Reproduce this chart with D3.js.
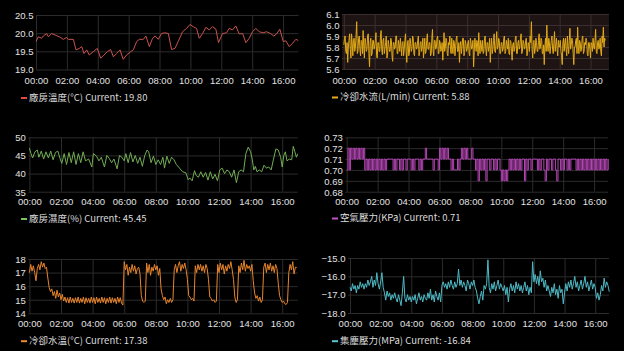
<!DOCTYPE html>
<html><head><meta charset="utf-8">
<script src="https://cdn.jsdelivr.net/npm/d3@7"></script>
<style>
html,body{margin:0;padding:0;background:#000;}
svg{display:block;}
</style></head><body>
<svg id="c" width="624" height="351"></svg>
<script>
// ---------- DATA ----------
const xTickHours = [0,2,4,6,8,10,12,14,16];
const STEP_MIN = 5;        // sampling step (minutes) for evenly sampled series
const FLOW_STEP_MIN = 2.5; // sampling step (minutes) for the flow series

// 廠房溫度 (irregular samples: hour, value)
const tempHours = [0.00,0.15,0.37,0.47,0.69,0.80,1.01,1.23,1.51,1.77,
1.98,2.09,2.42,2.59,2.80,2.96,3.11,3.28,3.45,3.71,
3.97,4.19,4.40,4.62,4.83,5.01,5.22,5.44,5.65,5.87,
6.13,6.30,6.52,6.69,6.95,7.12,7.34,7.55,7.72,7.92,
8.13,8.35,8.57,8.78,9.00,9.21,9.49,9.75,9.97,10.18,
10.40,10.57,10.79,11.00,11.22,11.43,11.65,11.82,12.08,12.34,
12.51,12.73,12.94,13.16,13.38,13.59,13.81,14.02,14.24,14.46,
14.71,14.93,15.19,15.40,15.58,15.79,16.01,16.18,16.40,16.61,
16.83,16.98];
const tempValues = [19.77,19.90,19.86,19.92,19.99,19.90,19.99,19.95,19.90,19.83,
19.88,19.83,19.83,19.54,19.58,19.63,19.44,19.54,19.40,19.49,
19.58,19.31,19.40,19.49,19.55,19.35,19.44,19.54,19.28,19.40,
19.49,19.54,19.77,19.83,19.83,19.92,19.63,19.86,19.92,19.83,
19.99,20.01,19.99,19.55,19.58,19.77,20.04,20.13,20.24,20.18,
20.13,19.86,19.99,20.16,20.09,20.18,20.11,19.74,19.99,20.01,
20.13,20.09,20.20,19.98,19.99,19.74,19.86,20.04,20.13,20.04,
20.01,20.04,19.99,19.92,19.98,20.11,19.77,19.79,19.63,19.72,
19.83,19.80];
const tempTicks = [19.0,19.5,20.0,20.5];

// 冷卻水流 (every 2.5 min)
const flowValues = [
5.82,5.88,5.90,5.76,5.74,5.84,5.66,5.80,5.86,5.92,5.78,5.70,5.92,5.84,5.72,5.86,5.88,5.76,5.80,5.90,6.03,5.74,5.76,5.88,
5.90,5.78,5.72,5.86,5.85,5.74,5.95,5.80,5.70,5.88,5.84,5.76,5.78,5.90,5.92,5.74,5.62,5.84,5.88,5.72,5.74,5.86,5.86,5.78,
5.80,5.86,5.93,5.72,5.70,5.84,5.84,5.76,5.76,5.90,5.95,5.78,5.73,5.86,5.88,5.74,5.78,5.84,5.90,5.70,5.72,5.86,5.82,5.76,
5.76,5.88,5.86,5.72,5.67,5.84,5.84,5.78,5.80,5.90,5.90,5.74,5.74,5.86,5.82,5.76,5.88,5.80,5.72,5.84,5.85,5.72,5.78,5.86,
5.92,5.76,5.66,5.84,5.86,5.72,5.74,5.88,5.83,5.76,5.78,5.90,5.88,5.74,5.72,5.84,5.84,5.78,5.79,5.86,5.90,5.72,5.75,5.84,
5.85,5.76,5.80,5.88,5.70,5.78,5.88,5.74,5.76,5.86,5.92,5.78,5.78,5.84,5.84,5.72,5.74,5.88,5.96,5.76,5.72,5.86,5.86,5.78,
5.80,5.88,5.90,5.74,5.74,5.86,5.84,5.76,5.78,5.84,5.68,5.80,5.93,5.76,5.80,5.88,5.86,5.74,5.72,5.84,5.82,5.90,5.78,5.74,
5.88,5.78,5.74,5.86,5.84,5.72,5.79,5.88,5.90,5.76,5.76,5.84,5.66,5.80,5.85,5.74,5.80,5.88,5.88,5.72,5.75,5.86,5.83,5.76,
5.78,5.84,5.86,5.74,5.72,5.88,5.84,5.78,5.80,5.86,5.62,5.76,5.88,5.82,5.76,5.86,5.84,5.72,5.93,5.80,5.74,5.86,5.82,5.76,
5.86,5.74,5.76,5.88,5.90,5.78,5.72,5.84,5.84,5.76,5.80,5.88,5.66,5.80,5.88,5.74,5.78,5.86,5.92,5.76,5.75,5.84,5.94,5.78,
5.80,5.88,5.86,5.74,5.74,5.84,5.84,5.76,5.78,5.88,5.90,5.74,5.76,5.86,5.82,5.78,5.88,5.74,5.73,5.86,5.85,5.76,5.68,5.82,
5.84,5.76,5.78,5.88,5.90,5.74,5.74,5.84,5.86,5.78,5.80,5.88,5.92,5.74,5.76,5.86,5.84,5.78,5.79,5.86,5.88,5.72,5.74,5.84,
5.82,5.76,5.90,5.84,6.03,5.78,5.70,5.84,5.86,5.74,5.78,5.88,5.84,5.76,5.76,5.86,5.92,5.78,5.80,5.88,5.86,5.74,5.74,5.82,
5.64,5.80,5.88,5.76,6.00,5.82,5.76,5.88,5.84,5.74,5.80,5.86,5.90,5.78,5.74,5.84,5.94,5.76,5.82,5.88,5.78,5.72,5.86,5.80,
5.80,5.86,5.76,5.72,5.64,5.84,5.88,5.76,5.84,5.88,5.78,5.72,5.90,5.80,5.74,5.86,5.97,5.78,5.82,5.88,5.86,5.74,5.64,5.80,
5.80,5.86,5.88,5.74,5.98,5.80,5.74,5.86,5.84,5.76,5.78,5.88,5.90,5.74,5.76,5.84,5.82,5.88,5.86,5.74,5.72,5.84,5.84,5.78,
5.70,5.84,5.82,5.76,5.88,5.80,5.78,5.86,5.96,5.76,5.74,5.84,5.86,5.78,5.80,5.88,5.76,5.72,5.90,5.84,5.98,5.80,5.88,5.86];
const flowTicks = [5.6,5.7,5.8,5.9,6.0,6.1];

// 廠房濕度 (irregular samples: hour, value)
const humHours = [0.00,0.10,0.20,0.35,0.50,0.60,0.75,0.90,1.05,1.20,
1.35,1.50,1.65,1.80,1.95,2.05,2.20,2.35,2.50,2.65,
2.80,2.95,3.10,3.25,3.40,3.55,3.75,3.95,4.05,4.25,
4.40,4.55,4.75,4.90,5.05,5.20,5.35,5.55,5.70,5.85,
6.00,6.10,6.25,6.40,6.55,6.70,6.85,7.00,7.15,7.30,
7.45,7.55,7.70,7.85,8.00,8.15,8.30,8.45,8.55,8.70,
8.85,9.00,9.15,9.30,9.50,9.70,9.90,10.05,10.15,10.30,
10.45,10.55,10.70,10.85,11.00,11.15,11.30,11.45,11.60,11.75,
11.90,12.05,12.20,12.35,12.50,12.65,12.80,12.95,13.10,13.25,
13.40,13.55,13.70,13.85,14.00,14.10,14.20,14.30,14.40,14.55,
14.70,14.85,15.00,15.15,15.30,15.45,15.60,15.75,15.90,16.00,
16.10,16.20,16.30,16.45,16.60,16.70,16.80,16.90,16.98];
const humValues = [47.0,45.5,44.3,46.0,46.5,44.5,46.2,44.0,46.0,44.3,
46.2,43.8,45.8,46.2,44.0,42.8,45.5,42.5,45.8,43.0,
46.0,42.5,45.5,43.0,46.0,43.5,44.0,41.8,45.5,44.8,
43.5,44.5,41.8,45.0,44.2,43.0,44.0,41.3,45.0,44.5,
43.5,45.5,43.0,45.8,43.2,45.0,42.8,44.5,42.0,45.0,
46.5,46.0,43.0,44.8,42.5,43.8,42.5,44.5,41.5,44.8,
42.8,44.5,43.8,42.5,41.5,40.5,40.2,38.3,38.8,38.0,
40.8,39.5,39.0,40.5,39.0,40.3,38.2,40.5,38.5,39.8,
38.0,41.0,41.5,40.0,41.0,40.5,39.0,41.0,37.5,40.5,
41.0,40.5,45.5,47.3,46.0,44.0,41.0,42.0,40.5,41.0,
40.5,42.3,41.5,41.8,41.0,44.0,46.8,46.5,44.5,41.8,
45.0,46.0,43.5,44.0,43.8,47.5,46.0,44.5,45.45];
const humTicks = [35,40,45,50];

// 空氣壓力 (every 5 min)
const airValues = [
0.70,0.72,0.70,0.72,0.71,0.72,0.71,0.72,0.71,0.72,0.71,0.72,
0.71,0.72,0.70,0.71,0.70,0.71,0.70,0.71,0.70,0.71,0.70,0.71,
0.70,0.71,0.70,0.71,0.70,0.71,0.70,0.71,0.71,0.71,0.71,0.71,
0.70,0.71,0.70,0.71,0.71,0.70,0.71,0.70,0.71,0.71,0.70,0.71,
0.71,0.71,0.70,0.71,0.70,0.71,0.71,0.71,0.70,0.71,0.70,0.71,
0.71,0.72,0.71,0.71,0.71,0.71,0.71,0.70,0.71,0.71,0.71,0.70,
0.72,0.71,0.72,0.71,0.72,0.71,0.72,0.71,0.71,0.70,0.71,0.70,
0.70,0.70,0.71,0.70,0.71,0.72,0.71,0.72,0.71,0.72,0.71,0.71,
0.71,0.72,0.71,0.71,0.70,0.71,0.69,0.71,0.70,0.71,0.70,0.71,
0.69,0.71,0.71,0.70,0.71,0.71,0.70,0.71,0.70,0.71,0.71,0.70,
0.69,0.70,0.69,0.70,0.69,0.70,0.71,0.70,0.71,0.70,0.71,0.70,
0.71,0.70,0.71,0.70,0.71,0.71,0.69,0.71,0.70,0.71,0.71,0.70,
0.71,0.71,0.71,0.71,0.70,0.71,0.70,0.71,0.71,0.70,0.69,0.71,
0.70,0.71,0.71,0.70,0.71,0.71,0.70,0.69,0.71,0.71,0.70,0.71,
0.70,0.71,0.71,0.70,0.71,0.70,0.71,0.71,0.71,0.71,0.70,0.71,
0.70,0.71,0.70,0.71,0.70,0.71,0.70,0.71,0.70,0.71,0.70,0.71,
0.70,0.71,0.70,0.71,0.70,0.71,0.70,0.71,0.70,0.71,0.70,0.71];
const airTicks = [0.68,0.69,0.70,0.71,0.72,0.73];

// 冷卻水溫 (every 5 min)
const waterTempValues = [
17.0,17.6,17.1,17.5,17.0,16.4,17.3,17.6,17.2,17.8,17.4,17.7,
17.3,17.4,16.6,15.9,15.6,15.8,15.3,15.6,15.1,15.7,15.2,15.5,
15.0,15.4,14.9,15.2,14.8,15.15,14.75,15.2,14.8,15.1,14.75,15.15,
14.8,15.2,14.75,15.1,14.8,15.2,14.7,15.15,14.8,15.1,14.75,15.2,
14.8,15.15,14.7,15.2,14.8,15.1,14.75,15.2,14.8,15.15,14.7,15.1,
14.8,15.2,14.75,15.15,14.8,15.1,14.7,15.2,14.8,15.15,14.75,14.6,
17.8,17.2,17.6,16.8,17.4,17.0,17.6,17.1,17.5,16.9,17.3,17.4,
16.9,15.3,14.9,14.8,14.9,17.7,17.0,17.6,16.8,17.4,17.1,17.6,
17.2,17.5,16.8,17.3,15.8,15.3,15.0,15.2,14.7,15.0,14.8,15.1,
14.8,15.0,17.2,17.6,17.0,17.5,17.8,17.1,17.6,17.3,17.7,17.2,
16.5,15.3,15.2,15.0,15.1,14.9,17.5,17.0,17.6,17.2,17.6,17.1,
17.5,17.0,17.6,17.3,16.5,15.2,15.1,14.9,15.0,14.8,14.9,17.6,
17.0,17.7,17.2,17.6,16.9,17.5,17.1,17.6,17.3,17.8,17.2,16.5,
15.2,14.8,15.0,17.5,17.0,17.7,17.2,17.9,17.1,17.6,17.3,17.5,
17.1,17.6,16.4,15.5,15.1,15.3,14.9,15.2,14.8,15.0,17.4,17.7,
17.0,17.6,17.2,17.7,17.1,17.5,17.0,17.6,17.3,16.2,15.3,15.0,
14.8,14.9,14.7,14.65,14.8,17.0,17.6,17.2,17.8,16.9,17.4,17.38];
const waterTempTicks = [14,15,16,17,18];

// 集塵壓力 (every 5 min)
const dustValues = [
-16.6,-16.8,-16.4,-16.7,-16.5,-16.9,-16.5,-16.7,-16.3,-16.6,-16.4,-16.7,
-16.4,-16.6,-16.2,-16.5,-16.3,-16.0,-16.6,-16.2,-16.5,-15.8,-16.4,-16.7,
-16.3,-15.8,-16.6,-16.9,-17.3,-16.8,-17.1,-16.9,-17.3,-17.0,-17.2,-16.9,
-17.2,-17.4,-17.0,-17.3,-17.6,-16.9,-16.0,-17.2,-17.4,-17.0,-17.3,-17.1,
-17.4,-17.1,-17.3,-17.0,-17.5,-17.2,-16.9,-17.3,-17.1,-17.4,-17.0,-17.2,
-17.3,-16.9,-17.2,-16.7,-17.3,-17.0,-17.4,-16.8,-17.1,-17.3,-16.9,-17.4,
-16.5,-16.3,-16.6,-16.4,-16.7,-16.3,-16.6,-16.2,-16.5,-16.7,-16.3,-16.6,
-16.4,-15.6,-16.5,-16.2,-16.6,-16.3,-16.5,-16.8,-16.2,-16.4,-16.7,-16.3,
-16.5,-16.2,-16.6,-16.8,-17.2,-17.5,-17.1,-16.8,-17.3,-16.5,-16.7,-16.4,
-15.1,-16.6,-16.9,-16.4,-16.7,-16.3,-16.8,-16.5,-16.2,-16.7,-16.4,-16.6,
-16.8,-16.5,-17.0,-16.6,-17.4,-16.7,-16.4,-16.8,-16.5,-16.9,-16.3,-16.7,
-16.4,-16.8,-16.5,-16.9,-16.6,-16.3,-16.8,-16.5,-17.0,-16.6,-16.9,-15.2,
-16.3,-15.9,-16.4,-16.0,-16.5,-15.7,-16.3,-16.1,-16.6,-16.2,-16.8,-16.5,
-16.8,-17.1,-16.6,-16.9,-16.4,-17.0,-16.7,-17.2,-16.5,-16.9,-16.7,-17.5,
-16.9,-16.4,-16.8,-16.3,-16.6,-16.2,-16.7,-16.4,-16.0,-16.6,-16.3,-16.8,
-16.5,-16.2,-16.7,-16.4,-16.0,-16.6,-16.3,-16.8,-16.5,-16.2,-16.7,-16.4,
-16.6,-17.2,-16.9,-17.3,-17.0,-16.5,-16.8,-16.1,-16.6,-16.3,-16.5,-16.84];
const dustTicks = [-18,-17,-16,-15];

const legendLabels = ["廠房溫度(°C)","冷卻水流(L/min)","廠房濕度(%)","空氣壓力(KPa)","冷卻水溫(°C)","集塵壓力(MPa)"];
const currentValues = ["19.80","5.88","45.45","0.71","17.38","-16.84"];

// ---------- DRAW ----------
const svg = d3.select("#c");
svg.append("rect").attr("width",624).attr("height",351).attr("fill","#000");
const TICK_FONT = "'Liberation Sans',Arial,sans-serif";
const LEG_FONT = "'Noto Sans CJK TC','Noto Sans',sans-serif";
const base = new Date(2020,0,1,0,0,0);
const hToDate = h => new Date(base.getTime() + h*3600000);
const stepSeries = (vals, step) => vals.map((v,i)=>({t:hToDate(i*step/60), v}));
const pairSeries = (hs, vals) => hs.map((h,i)=>({t:hToDate(h), v:vals[i]}));
const xTickDates = xTickHours.map(hToDate);

const panels = [
 {data:pairSeries(tempHours,tempValues), ticks:tempTicks, fmt:d3.format(".1f"), color:"#c9534f", sw:"#e24848",
  left:36, right:298.5, top:15, bottom:69.5, t0:0, t1:17, bg:null, grid:"#2c2c2c", xLabelY:80.5, legendX:29, legendY:97.5, curve:d3.curveLinear},
 {data:stepSeries(flowValues,FLOW_STEP_MIN), ticks:flowTicks, fmt:d3.format(".1f"), color:"#e2aa14", sw:"#eaaa1c",
  left:342, right:609, top:14, bottom:69, t0:-0.12, t1:17.2, bg:"#1f1414", grid:"#3a2e2e", xLabelY:80.5, legendX:340, legendY:97, curve:d3.curveLinear},
 {data:pairSeries(humHours,humValues), ticks:humTicks, fmt:d3.format("d"), color:"#72ad55", sw:"#7cc25a",
  left:28.3, right:297.7, top:137.3, bottom:191.7, t0:-0.07, t1:16.98, bg:null, grid:"#2c2c2c", xLabelY:202, legendX:29, legendY:218.5, curve:d3.curveLinear},
 {data:stepSeries(airValues,STEP_MIN), ticks:airTicks, fmt:d3.format(".2f"), color:"#b446b4", sw:"#c452c4",
  left:345.3, right:608, top:137.3, bottom:191.7, t0:-0.09, t1:16.9, bg:null, grid:"#2c2c2c", xLabelY:202, legendX:340, legendY:218, curve:d3.curveStepAfter},
 {data:stepSeries(waterTempValues,STEP_MIN), ticks:waterTempTicks, fmt:d3.format("d"), color:"#e8852c", sw:"#f08a30",
  left:28.3, right:297.7, top:259, bottom:313.3, t0:-0.07, t1:16.98, bg:null, grid:"#2c2c2c", xLabelY:324, legendX:29, legendY:340.7, curve:d3.curveLinear},
 {data:stepSeries(dustValues,STEP_MIN), ticks:dustTicks, fmt:d3.format(".1f"), color:"#4fbac6", sw:"#58c8d4",
  left:348, right:609, top:258, bottom:313, t0:-0.13, t1:16.9, bg:null, grid:"#2c2c2c", xLabelY:323.5, legendX:340, legendY:340.7, curve:d3.curveLinear}
];

panels.forEach((p,i)=>{
  const x = d3.scaleTime().domain([hToDate(p.t0),hToDate(p.t1)]).range([p.left,p.right]);
  const y = d3.scaleLinear().domain([p.ticks[0],p.ticks[p.ticks.length-1]]).range([p.bottom,p.top]);
  const g = svg.append("g");
  if(p.bg) g.append("rect").attr("x",p.left).attr("y",p.top).attr("width",p.right-p.left).attr("height",p.bottom-p.top).attr("fill",p.bg);
  // grids
  g.append("g").attr("transform",`translate(0,${p.bottom})`)
    .call(d3.axisBottom(x).tickValues(xTickDates).tickSize(-(p.bottom-p.top)).tickFormat(""))
    .call(a=>{a.select(".domain").remove(); a.selectAll("line").attr("stroke",p.grid).attr("stroke-width",1);});
  g.append("g").attr("transform",`translate(${p.left},0)`)
    .call(d3.axisLeft(y).tickValues(p.ticks).tickSize(-(p.right-p.left)).tickFormat(""))
    .call(a=>{a.select(".domain").remove(); a.selectAll("line").attr("stroke",p.grid).attr("stroke-width",1);});
  // line
  g.append("path").datum(p.data).attr("fill","none").attr("stroke",p.color).attr("stroke-width",1)
    .attr("d", d3.line().x(d=>x(d.t)).y(d=>y(d.v)).curve(p.curve));
  // x labels
  g.append("g").attr("transform",`translate(0,${p.xLabelY})`)
    .call(d3.axisBottom(x).tickValues(xTickDates).tickSize(0).tickPadding(0).tickFormat(d3.timeFormat("%H:%M")))
    .call(a=>{a.select(".domain").remove();
      a.selectAll("text").attr("y",0).attr("dy","0.35em").attr("fill","#e2e2e2").attr("font-size",9.5).attr("font-family",TICK_FONT);});
  // y labels
  g.append("g").attr("transform",`translate(${p.left-2.5},0)`)
    .call(d3.axisLeft(y).tickValues(p.ticks).tickSize(0).tickPadding(0).tickFormat(p.fmt))
    .call(a=>{a.select(".domain").remove();
      a.selectAll("text").attr("x",0).attr("dy","0.35em").attr("fill","#e2e2e2").attr("font-size",9.5).attr("font-family",TICK_FONT);});
  // legend
  g.append("rect").attr("x",p.legendX-8).attr("y",p.legendY-0.5).attr("width",6).attr("height",2).attr("fill",p.sw);
  g.append("text").attr("x",p.legendX).attr("y",p.legendY).attr("dy","0.35em")
    .attr("fill","#dcdcdc").attr("font-size",9.5).attr("font-family",LEG_FONT)
    .text(`${legendLabels[i]} Current: ${currentValues[i]}`);
});
</script>
</body></html>
